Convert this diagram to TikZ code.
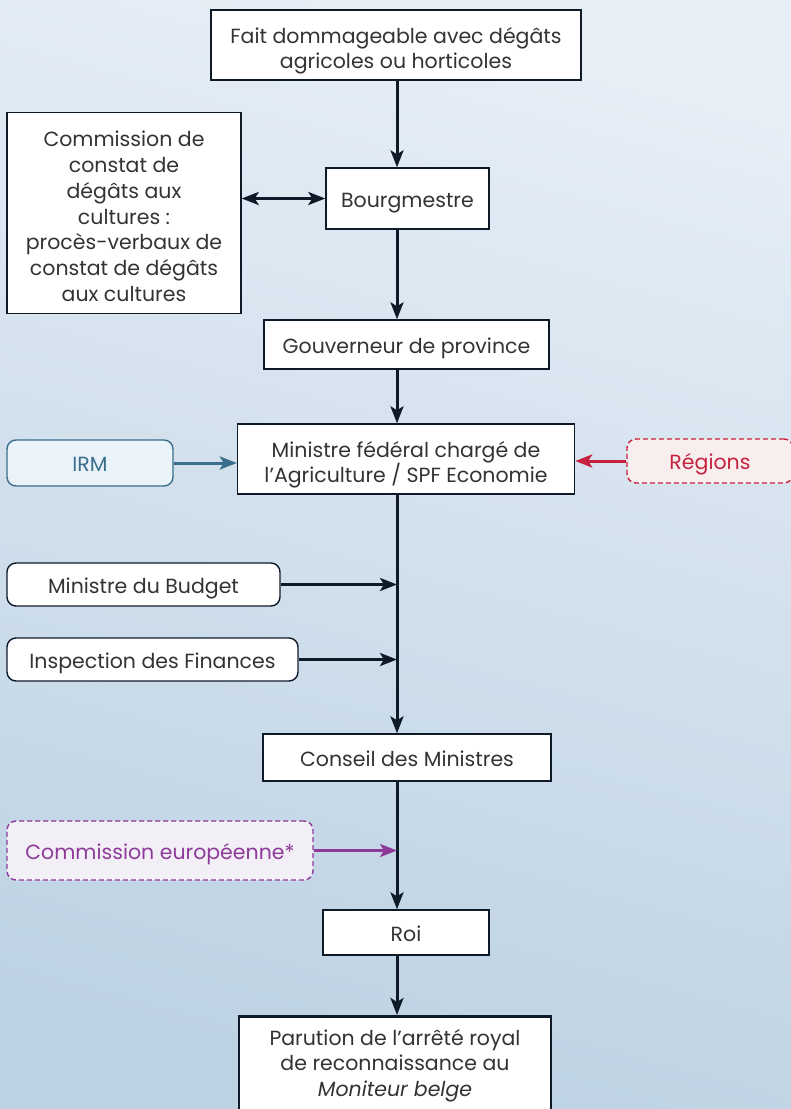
\documentclass[tikz,border=0pt]{standalone}
\usepackage{fontspec}
\setmainfont{Poppins}
\usetikzlibrary{arrows.meta, calc, positioning}

\definecolor{ink}{HTML}{0E1A28}
\definecolor{txt}{HTML}{333333}
\definecolor{irmblue}{HTML}{3B6D8C}
\definecolor{irmfill}{HTML}{EAF3FA}
\definecolor{regred}{HTML}{C8203F}
\definecolor{regfill}{HTML}{F8EEEE}
\definecolor{cepurple}{HTML}{8E3A99}
\definecolor{cefill}{HTML}{F3EFF6}
\definecolor{bgtop}{HTML}{E6EEF6}
\definecolor{bgbot}{HTML}{BDD2E3}

% extra room above the first line of a multi-line box
\newcommand{\liftline}{\rule{0pt}{29pt}}

\tikzset{
  stepbox/.style={draw=ink, fill=white, line width=1.4pt, align=center, inner sep=0pt,
    font=\fontsize{20.5}{25.7}\selectfont, text=txt,
    execute at begin node={\rule{0pt}{24pt}}, execute at end node={\rule[-7pt]{0pt}{7pt}}},
  keybox/.style={stepbox, line width=2.8pt},
  sidebox/.style={stepbox, rounded corners=9pt},
  dashbox/.style={sidebox, dash pattern=on 5pt off 3pt},
  tip/.style={-{Stealth[length=17pt, width=13pt, inset=4pt]}},
  flow/.style={draw=ink, line width=3pt, tip},
}

\begin{document}
\begin{tikzpicture}[x=1pt, y=-1pt]
% Background
\shade[top color=bgtop, bottom color=bgbot, shading angle=-15] (0,0) rectangle (791,1109);
\useasboundingbox (0,0) rectangle (791,1109);

% Main chain
\node[keybox, minimum width=370pt, minimum height=70pt] (fait) at (396,45)
  {\liftline Fait dommageable avec dégâts\\agricoles ou horticoles};
\node[stepbox, minimum width=163pt, minimum height=61pt] (bourg) at (407.5,198.5) {Bourgmestre};
\node[stepbox, minimum width=285pt, minimum height=49pt] (gouv) at (406.5,344.5) {Gouverneur de province};
\node[stepbox, minimum width=337pt, minimum height=70pt] (minis) at (406,459)
  {\liftline Ministre fédéral chargé de\\l’Agriculture / SPF Economie};
\node[stepbox, minimum width=288pt, minimum height=47pt] (conseil) at (407,757.5) {Conseil des Ministres};
\node[stepbox, minimum width=166pt, minimum height=45pt] (roi) at (406,932.5) {Roi};
\node[keybox, minimum width=312pt, minimum height=100pt, anchor=north] (paru) at (395,1015)
  {Parution de l’arrêté royal\\de reconnaissance au\\\textit{Moniteur belge}};

% Side boxes
\node[stepbox, minimum width=234pt, minimum height=201pt] (comm) at (124,213)
  {\liftline Commission de\\constat de\\dégâts aux\\cultures :\\procès-verbaux de\\constat de dégâts\\aux cultures};
\node[sidebox, draw=irmblue, fill=irmfill, text=irmblue, minimum width=166pt, minimum height=46pt] (irm) at (90,463) {IRM};
\node[dashbox, draw=regred, fill=regfill, text=regred, minimum width=166pt, minimum height=44pt] (reg) at (710,461) {Régions};
\node[sidebox, minimum width=273pt, minimum height=43pt] (budget) at (143.5,584.5) {Ministre du Budget};
\node[sidebox, minimum width=291pt, minimum height=43pt] (insp) at (152.5,659.5) {Inspection des Finances};
\node[dashbox, draw=cepurple, fill=cefill, text=cepurple, minimum width=306pt, minimum height=59pt] (ce) at (160,850.5) {Commission européenne*};

% Spine
\coordinate (spine) at (397,0);
\coordinate (jbudget) at (spine |- budget.east);
\coordinate (jinsp) at (spine |- insp.east);
\coordinate (jce) at (spine |- ce.east);

% Connectors
\draw[flow] (spine |- fait.south) -- (spine |- bourg.north);
\draw[flow, {Stealth[length=17pt, width=13pt, inset=4pt]}-{Stealth[length=17pt, width=13pt, inset=4pt]}] (comm.east |- bourg.west) -- (bourg.west);
\draw[flow] (spine |- bourg.south) -- (spine |- gouv.north);
\draw[flow] (spine |- gouv.south) -- (spine |- minis.north);
\draw[flow, draw=irmblue] (irm.east) -- (irm.east -| minis.west);
\draw[flow, draw=regred] (reg.west) -- (reg.west -| minis.east);
\draw[flow] (spine |- minis.south) -- (spine |- conseil.north);
\draw[flow] (budget.east) -- (jbudget);
\draw[flow] (insp.east) -- (jinsp);
\draw[flow] (spine |- conseil.south) -- (spine |- roi.north);
\draw[flow, draw=cepurple] (ce.east) -- (jce);
\draw[flow] (spine |- roi.south) -- (spine |- paru.north);
\end{tikzpicture}
\end{document}
